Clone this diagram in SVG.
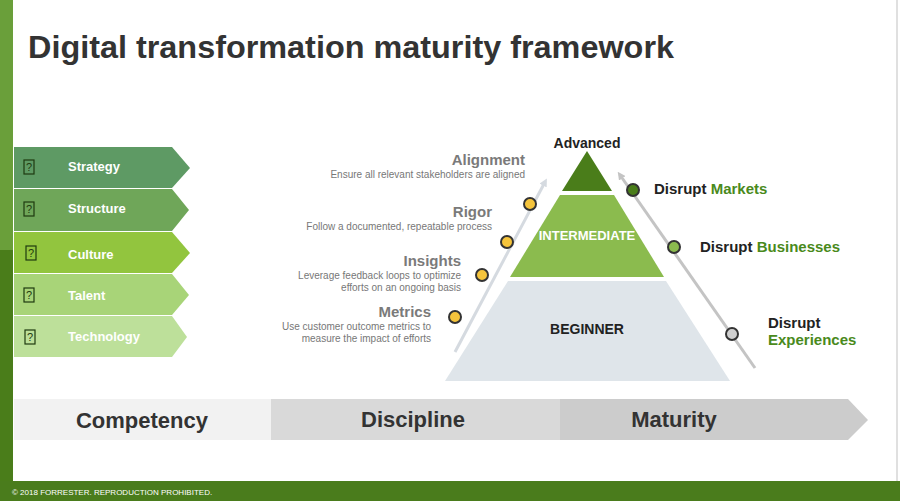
<svg xmlns="http://www.w3.org/2000/svg" width="900" height="501" viewBox="0 0 900 501">
<style>
.f{font-family:"Liberation Sans",Arial,sans-serif}
.ch{font-family:"Liberation Sans",Arial,sans-serif;font-weight:bold;font-size:13px;fill:#fff}
.ic{fill:none;stroke:#1e3a10;stroke-width:1.2}
.iq{font-family:"Liberation Sans",Arial,sans-serif;font-size:11px;fill:#1e3a10}
.h{font-family:"Liberation Sans",Arial,sans-serif;font-weight:bold;font-size:15px;fill:#7a7a7a;text-anchor:end}
.s{font-family:"Liberation Sans",Arial,sans-serif;font-size:10px;fill:#777;text-anchor:end}
.yd{fill:#f5c43c;stroke:#333;stroke-width:2}
.r{font-family:"Liberation Sans",Arial,sans-serif;font-weight:bold;font-size:15px;fill:#222}
.g{fill:#4a8a1c}
.b{font-family:"Liberation Sans",Arial,sans-serif;font-weight:bold;font-size:22px;fill:#333;text-anchor:middle}
</style>
<defs>
<marker id="al" markerWidth="8" markerHeight="8" refX="4" refY="4" orient="auto" markerUnits="userSpaceOnUse"><path d="M0,0 L8,4 L0,8 Z" fill="#d5dae0"/></marker>
<marker id="ar" markerWidth="8" markerHeight="8" refX="4" refY="4" orient="auto" markerUnits="userSpaceOnUse"><path d="M0,0 L8,4 L0,8 Z" fill="#c4c4c4"/></marker>
</defs>
<rect width="900" height="501" fill="#fff"/>
<rect x="896" y="0" width="2" height="481" fill="#e0e0e0"/>
<rect x="0" y="0" width="13" height="250" fill="#6a9f3a"/>
<rect x="0" y="250" width="13" height="235" fill="#4a7d1a"/>
<rect x="0" y="481" width="900" height="20" fill="#4a7c1c"/>
<text x="12" y="495" class="f" font-size="8" fill="#fff">© 2018 FORRESTER. REPRODUCTION PROHIBITED.</text>
<text x="28" y="58" class="f" font-size="31" font-weight="bold" fill="#333" textLength="646" lengthAdjust="spacingAndGlyphs">Digital transformation maturity framework</text>

<g id="strategy"><path d="M14,147 H172 L190,168 L172,188 H14 Z" fill="#5e9a64"/><rect x="24" y="160" width="10" height="14" class="ic"/><text x="29" y="171" class="iq" text-anchor="middle">?</text><text x="68" y="171" class="ch">Strategy</text></g>
<g id="structure"><path d="M14,189 H172 L189,210 L172,231 H14 Z" fill="#6fa659"/><rect x="24" y="202" width="10" height="14" class="ic"/><text x="29" y="213" class="iq" text-anchor="middle">?</text><text x="68" y="213" class="ch">Structure</text></g>
<g id="culture"><path d="M14,232 H172 L190,253 L172,273 H14 Z" fill="#92c53e"/><rect x="26" y="246" width="10" height="14" class="ic"/><text x="31" y="257" class="iq" text-anchor="middle">?</text><text x="68" y="259" class="ch">Culture</text></g>
<g id="talent"><path d="M14,274 H172 L189,295 L172,315 H14 Z" fill="#a8d478"/><rect x="24" y="288" width="10" height="14" class="ic"/><text x="29" y="299" class="iq" text-anchor="middle">?</text><text x="68" y="300" class="ch">Talent</text></g>
<g id="technology"><path d="M14,316 H172 L187,337 L172,357 H14 Z" fill="#bde09a"/><rect x="25" y="330" width="10" height="14" class="ic"/><text x="30" y="341" class="iq" text-anchor="middle">?</text><text x="68" y="341" class="ch">Technology</text></g>

<g id="advanced"><path d="M587,151 L612,191 L562,191 Z" fill="#4a7d1a"/><text x="587" y="148" class="f" font-size="14" font-weight="bold" fill="#222" text-anchor="middle">Advanced</text></g>
<g id="intermediate"><path d="M560,195 H614 L664,277 H510 Z" fill="#8bbb4e"/><text x="587" y="240" class="f" font-size="13" font-weight="bold" fill="#fff" text-anchor="middle">INTERMEDIATE</text></g>
<g id="beginner"><path d="M508,281 H666 L730,381 H445 Z" fill="#dfe5ea"/><text x="587" y="334" class="f" font-size="14" font-weight="bold" fill="#222" text-anchor="middle">BEGINNER</text></g>

<g id="connectors">
<line x1="455" y1="352" x2="545" y2="182" stroke="#d5dae0" stroke-width="3" marker-end="url(#al)"/>
<line x1="755" y1="368" x2="620" y2="175" stroke="#c4c4c4" stroke-width="3" marker-end="url(#ar)"/>
</g>

<g id="metrics"><circle cx="455" cy="317" r="6" class="yd"/><text x="431" y="317" class="h">Metrics</text><text x="431" y="330" class="s">Use customer outcome metrics to</text><text x="431" y="342" class="s">measure the impact of efforts</text></g>
<g id="insights"><circle cx="482" cy="275" r="6" class="yd"/><text x="461" y="266" class="h">Insights</text><text x="461" y="279" class="s">Leverage feedback loops to optimize</text><text x="461" y="291" class="s">efforts on an ongoing basis</text></g>
<g id="rigor"><circle cx="507" cy="242" r="6" class="yd"/><text x="492" y="217" class="h">Rigor</text><text x="492" y="230" class="s">Follow a documented, repeatable process</text></g>
<g id="alignment"><circle cx="530" cy="204" r="6" class="yd"/><text x="525" y="165" class="h">Alignment</text><text x="525" y="178" class="s">Ensure all relevant stakeholders are aligned</text></g>

<g id="markets"><circle cx="633" cy="190" r="6" fill="#4a7d1a" stroke="#333" stroke-width="2"/><text x="654" y="194" class="r">Disrupt <tspan class="g">Markets</tspan></text></g>
<g id="businesses"><circle cx="674" cy="247" r="6" fill="#8bbb4e" stroke="#333" stroke-width="2"/><text x="700" y="252" class="r">Disrupt <tspan class="g">Businesses</tspan></text></g>
<g id="experiences"><circle cx="732" cy="334" r="6" fill="#d0d0d0" stroke="#333" stroke-width="2"/><text x="768" y="328" class="r">Disrupt</text><text x="768" y="345" class="r"><tspan class="g">Experiences</tspan></text></g>

<g id="bottom">
<rect x="14" y="399" width="257" height="41" fill="#f2f2f2"/>
<rect x="271" y="399" width="289" height="41" fill="#d9d9d9"/>
<path d="M560,399 H848 L868,420 L848,440 H560 Z" fill="#cccccc"/>
<text x="142" y="428" class="b">Competency</text>
<text x="413" y="427" class="b">Discipline</text>
<text x="674" y="427" class="b">Maturity</text>
</g>
</svg>
